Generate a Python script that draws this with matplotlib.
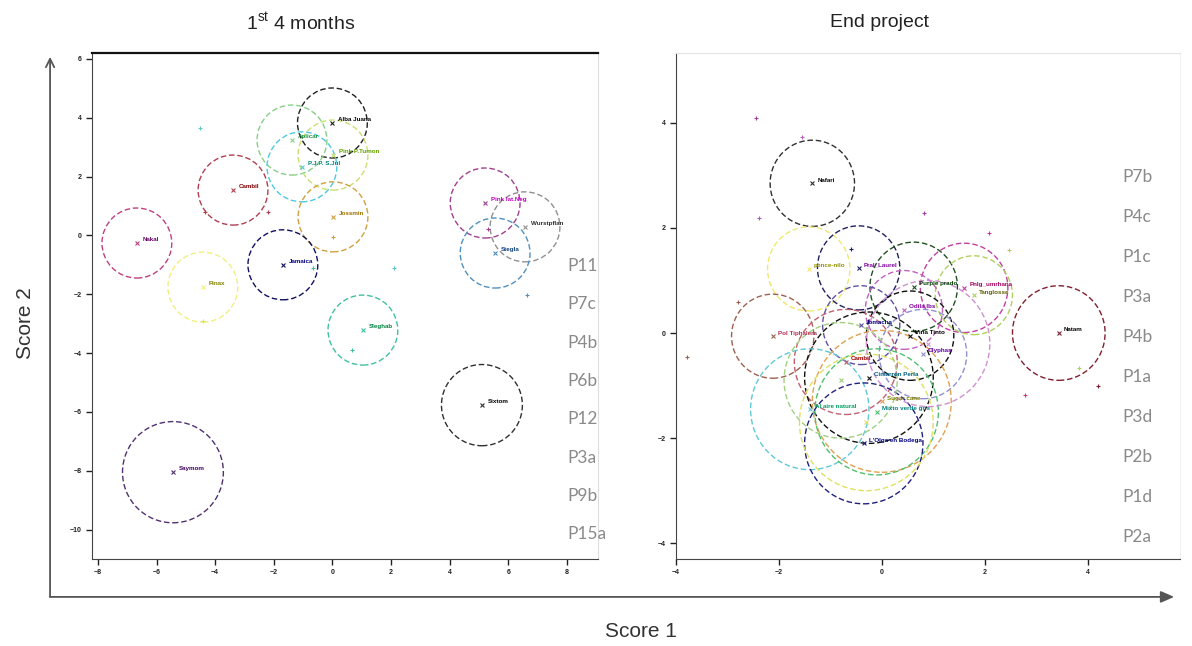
import matplotlib
matplotlib.use("Agg")
import matplotlib.pyplot as plt
from matplotlib.patches import Circle, FancyArrowPatch

plt.rcParams['font.family'] = ['Liberation Sans', 'DejaVu Sans']
plt.rcParams['mathtext.fontset'] = 'custom'
plt.rcParams['mathtext.rm'] = 'Liberation Sans'

# ---------------- data: first 4 months ----------------
first_names = ["Alba Juana", "Aplicar", "P.J.P. S.Jul", "Pink P.Tumon", "Cambil",
               "Jossmin", "Nakal", "Jamaica", "Pinax", "Pink lat.Neg",
               "Wurstpflan", "Stegla", "Sleghab", "Sixtom", "Saymom"]
first_x = [0.0, -1.38, -1.04, 0.02, -3.39, 0.02, -6.67, -1.69, -4.42, 5.21,
           6.57, 5.55, 1.04, 5.10, -5.44]
first_y = [3.82, 3.24, 2.33, 2.73, 1.54, 0.63, -0.26, -1.00, -1.76, 1.10,
           0.29, -0.60, -3.22, -5.77, -8.05]
first_r = [1.19, 1.19, 1.19, 1.19, 1.19, 1.19, 1.19, 1.19, 1.19, 1.19,
           1.19, 1.19, 1.19, 1.38, 1.72]
first_circle_colors = ["#202020", "#88d088", "#50c8e0", "#c8e070", "#b04050",
                       "#d0a040", "#c04080", "#101060", "#f0f080", "#a04090",
                       "#909090", "#5090c0", "#40c0a0", "#303030", "#503070"]
first_label_colors = ["#000000", "#209040", "#008080", "#60a000", "#800000",
                      "#a07000", "#600060", "#000080", "#808000", "#c000c0",
                      "#303030", "#104080", "#008040", "#000000", "#400060"]
first_pts_x = [-4.52, -0.66, 0.67, 6.64, -4.35, -2.2, -4.42, 0.02, 2.1, 5.3]
first_pts_y = [3.65, -1.10, -3.90, -2.03, 0.80, 0.80, -2.90, -0.05, -1.1, 0.2]
first_pts_c = ["#60c8c8", "#40c0a0", "#40c0a0", "#5090c0", "#b04050",
               "#b04050", "#e0e060", "#d0a040", "#60c8c8", "#a04090"]
first_side_labels = ["P11", "P7c", "P4b", "P6b", "P12", "P3a", "P9b", "P15a"]

# ---------------- data: end project ----------------
end_names = ["Nafari", "ponce-nilo", "Pral_Laurel", "Purple prado", "Pnlg_umrhana",
             "Tanglosse", "Natam", "Pol Tiphalera", "Odila lbs", "Jomacha",
             "Vina Tinto", "Olyphas", "Cambil", "Cimarron Perla", "Sugar cane",
             "Al aire natural", "Mixto verde gris", "L'Olga en Bodega", "", "", ""]
end_x = [-1.35, -1.42, -0.45, 0.62, 1.60, 1.79, 3.44, -2.12, 0.43, -0.40,
         0.55, 0.80, -0.70, -0.25, 0.00, -1.40, -0.10, -0.35, -0.30, 0.90, -0.80]
end_y = [2.85, 1.22, 1.24, 0.88, 0.86, 0.72, 0.00, -0.06, 0.44, 0.15,
         -0.05, -0.40, -0.55, -0.85, -1.30, -1.45, -1.50, -2.10, -1.70, -0.20, -0.90]
end_r = [0.82, 0.80, 0.80, 0.85, 0.85, 0.75, 0.90, 0.80, 0.75, 0.75,
         0.85, 0.85, 1.00, 1.25, 1.35, 1.15, 1.20, 1.15, 1.30, 1.20, 1.10]
end_circle_colors = ["#303030", "#f0e870", "#202060", "#205020", "#c040a0",
                     "#b0d060", "#802030", "#a06050", "#c060c0", "#6050a0",
                     "#101010", "#9090d0", "#c06070", "#101010", "#e0a050",
                     "#60c8d8", "#50c070", "#202080", "#e0e060", "#d090d0", "#a0d080"]
end_label_colors = ["#000000", "#909000", "#8000a0", "#004000", "#a00060",
                    "#606000", "#000000", "#b03050", "#8000a0", "#000080",
                    "#000000", "#6000a0", "#a00000", "#006080", "#808000",
                    "#00a060", "#008080", "#000080", "#000000", "#000000", "#000000"]
end_pts_x = [-2.45, -1.55, -2.39, 0.82, 2.08, 2.47, -3.79, 2.78, 4.20, 3.83, -2.80, -0.6]
end_pts_y = [4.10, 3.73, 2.19, 2.29, 1.90, 1.58, -0.46, -1.18, -1.00, -0.67, 0.60, 1.6]
end_pts_c = ["#a040a0", "#c060c0", "#a060c0", "#a040a0", "#c040a0", "#b0d060",
             "#a06050", "#c04080", "#802030", "#b0d060", "#a06050", "#202060"]
end_side_labels = ["P7b", "P4c", "P1c", "P3a", "P4b", "P1a", "P3d", "P2b", "P1d", "P2a"]

first_xticks = [-8, -6, -4, -2, 0, 2, 4, 6, 8]
first_yticks = [6, 4, 2, 0, -2, -4, -6, -8, -10]
end_xticks = [-4, -2, 0, 2, 4]
end_yticks = [4, 2, 0, -2, -4]

fig = plt.figure(figsize=(11.92, 6.46), dpi=100)
ax1 = fig.add_axes([0.0772, 0.1347, 0.4245, 0.7833])
ax2 = fig.add_axes([0.5671, 0.1347, 0.4230, 0.7833])


def draw_panel(ax, names, xs, ys, rs, ccols, lcols, px, py, pc, lab_dx, lab_dy):
    for n, x, y, r, cc, lc in zip(names, xs, ys, rs, ccols, lcols):
        ax.add_patch(Circle((x, y), r, fill=False, edgecolor=cc, lw=1.0,
                            linestyle=(0, (4, 2))))
        ax.plot([x], [y], marker="x", ms=3, color=cc, mew=0.8)
        if n:
            ax.text(x + lab_dx, y + lab_dy, n, fontsize=4.5, fontweight="bold",
                    color=lc, ha="left", va="center")
    for x, y, c in zip(px, py, pc):
        ax.plot([x], [y], marker="+", ms=3.5, color=c, mew=0.8, ls="none")


draw_panel(ax1, first_names, first_x, first_y, first_r, first_circle_colors,
           first_label_colors, first_pts_x, first_pts_y, first_pts_c, 0.2, 0.12)
draw_panel(ax2, end_names, end_x, end_y, end_r, end_circle_colors,
           end_label_colors, end_pts_x, end_pts_y, end_pts_c, 0.1, 0.06)

ax1.set_xlim(-8.2, 9.06)
ax1.set_ylim(-11.0, 6.2)
ax1.set_xticks(first_xticks)
ax1.set_yticks(first_yticks)
ax2.set_xlim(-4.0, 5.8)
ax2.set_ylim(-4.3, 5.33)
ax2.set_xticks(end_xticks)
ax2.set_yticks(end_yticks)

for ax in (ax1, ax2):
    ax.tick_params(direction="out", length=4, width=1, labelsize=5, colors="#222222")
    for lab in ax.get_xticklabels() + ax.get_yticklabels():
        lab.set_fontweight("bold")
    ax.spines["bottom"].set_color("#444444")
    ax.spines["left"].set_color("#444444")
    ax.spines["right"].set_color("#dddddd")

ax1.spines["top"].set_color("#111111")
ax1.spines["top"].set_linewidth(1.6)
ax2.spines["top"].set_color("#e4e4e4")
ax2.spines["right"].set_color("#f0f0f0")

side_font = dict(fontsize=12.5, color="#8a8a8a", family=["Lato", "DejaVu Sans"],
                 va="center", ha="left")
for i, t in enumerate(first_side_labels):
    ax1.text(0.94, 0.579 - i * 0.0757, t, transform=ax1.transAxes, **side_font)
for i, t in enumerate(end_side_labels):
    ax2.text(0.885, 0.754 - i * 0.0790, t, transform=ax2.transAxes, **side_font)

# outer arrows
fig.add_artist(FancyArrowPatch((0.042, 0.076), (0.042, 0.912), transform=fig.transFigure,
                               arrowstyle="->,head_length=6,head_width=3", color="#555555",
                               lw=1.3, shrinkA=0, shrinkB=0))
fig.add_artist(FancyArrowPatch((0.042, 0.076), (0.985, 0.076), transform=fig.transFigure,
                               arrowstyle="-|>,head_length=8,head_width=3.5", color="#555555",
                               lw=1.3, shrinkA=0, shrinkB=0))

fig.text(0.021, 0.50, "Score 2", rotation=90, fontsize=15, ha="center", va="center",
         color="#333333")
fig.text(0.538, 0.022, "Score 1", fontsize=15, ha="center", va="center", color="#333333")
fig.text(0.252, 0.965, r"1$^{\mathrm{st}}$ 4 months", fontsize=14, ha="center",
         va="center", color="#222222")
fig.text(0.738, 0.965, "End project", fontsize=14, ha="center", va="center",
         color="#222222")

fig.savefig("out.png", dpi=100)
